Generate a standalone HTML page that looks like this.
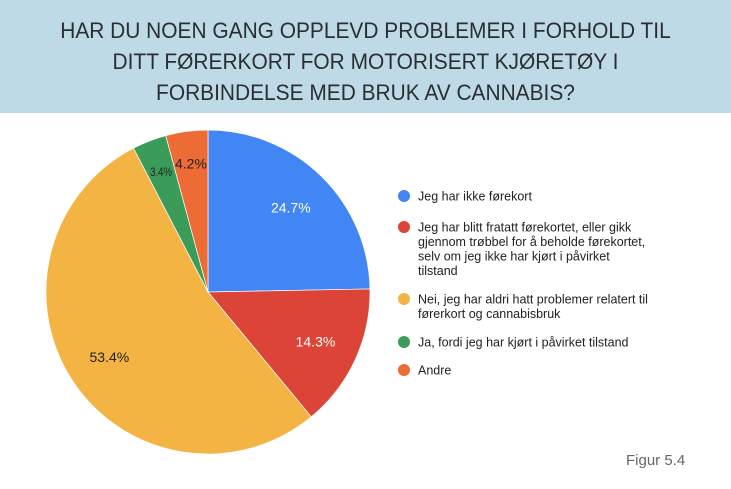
<!DOCTYPE html>
<html><head><meta charset="utf-8"><style>
body{margin:0;width:731px;height:489px;background:#fff;overflow:hidden;font-family:"Liberation Sans",sans-serif;}
#hdr{position:absolute;left:0;top:0;width:731px;height:113px;background:#bedae6;}
#hdr div{position:absolute;left:0;width:731px;text-align:center;font-size:22px;color:#2a2e33;transform:scaleX(0.95);}
</style></head><body>
<div id="hdr">
<div style="top:18px">HAR DU NOEN GANG OPPLEVD PROBLEMER I FORHOLD TIL</div>
<div style="top:49px">DITT FØRERKORT FOR MOTORISERT KJØRETØY I</div>
<div style="top:80px">FORBINDELSE MED BRUK AV CANNABIS?</div>
</div>
<svg id="chart" width="731" height="489" style="position:absolute;left:0;top:0"></svg>
<div style="position:absolute;left:626px;top:452px;font-size:15px;color:#666">Figur 5.4</div>
<script>
const categories=["Jeg har ikke førekort","Jeg har blitt fratatt førekortet, eller gikk gjennom trøbbel for å beholde førekortet, selv om jeg ikke har kjørt i påvirket tilstand","Nei, jeg har aldri hatt problemer relatert til førerkort og cannabisbruk","Ja, fordi jeg har kjørt i påvirket tilstand","Andre"];
const values=[24.7,14.3,53.4,3.4,4.2];
const labels=["24.7%","14.3%","53.4%","3.4%","4.2%"];
const colorsA=["#4285f4","#db4437","#f3b443","#3b9c59","#ed6b35"];
const legendLines=[["Jeg har ikke førekort"],["Jeg har blitt fratatt førekortet, eller gikk","gjennom trøbbel for å beholde førekortet,","selv om jeg ikke har kjørt i påvirket","tilstand"],["Nei, jeg har aldri hatt problemer relatert til","førerkort og cannabisbruk"],["Ja, fordi jeg har kjørt i påvirket tilstand"],["Andre"]];
const NS="http://www.w3.org/2000/svg";
const svg=document.getElementById('chart');
const cx=208,cy=292,r=162;
const total=values.reduce((a,b)=>a+b,0);
function pt(frac,rad){const a=frac*2*Math.PI;return [cx+rad*Math.sin(a),cy-rad*Math.cos(a)];}
let acc=0;
values.forEach((v,i)=>{
 const s=acc/total,e=(acc+v)/total;acc+=v;
 const p0=pt(s,r),p1=pt(e,r);
 const path=document.createElementNS(NS,'path');
 path.setAttribute('d',`M${cx},${cy}L${p0[0]},${p0[1]}A${r},${r} 0 ${e-s>0.5?1:0} 1 ${p1[0]},${p1[1]}Z`);
 path.setAttribute('fill',colorsA[i]);path.setAttribute('stroke','#fff');path.setAttribute('stroke-width','0.7');
 
 
 svg.appendChild(path);
 const small=v<5;
 const lp=pt((s+e)/2,small?r*0.8:r*0.73);
 const t=document.createElementNS(NS,'text');
 t.setAttribute('x',lp[0]);t.setAttribute('y',lp[1]+5);t.setAttribute('text-anchor','middle');
 t.setAttribute('font-size',v<4?'12':'14');
 if(v<4){t.setAttribute('transform',`translate(${lp[0]},0) scale(0.8,1) translate(${-lp[0]},0)`);}
 t.setAttribute('fill',(i==0||i==1)?'#fff':'#222');
 t.textContent=labels[i];
 
 
 svg.appendChild(t);
});
const ly=[196,227,299,342,370];
legendLines.forEach((lines,i)=>{
 const c=document.createElementNS(NS,'circle');
 c.setAttribute('cx',404);c.setAttribute('cy',ly[i]);c.setAttribute('r',6);c.setAttribute('fill',colorsA[i]);
 
 
 svg.appendChild(c);
 lines.forEach((ln,j)=>{
  const t=document.createElementNS(NS,'text');
  t.setAttribute('x',418);t.setAttribute('y',ly[i]+4.5+j*14.5);t.setAttribute('font-size','12.5');t.setAttribute('fill','#222');
  t.textContent=ln;
  
  
  svg.appendChild(t);
 });
});
</script>
</body></html>
